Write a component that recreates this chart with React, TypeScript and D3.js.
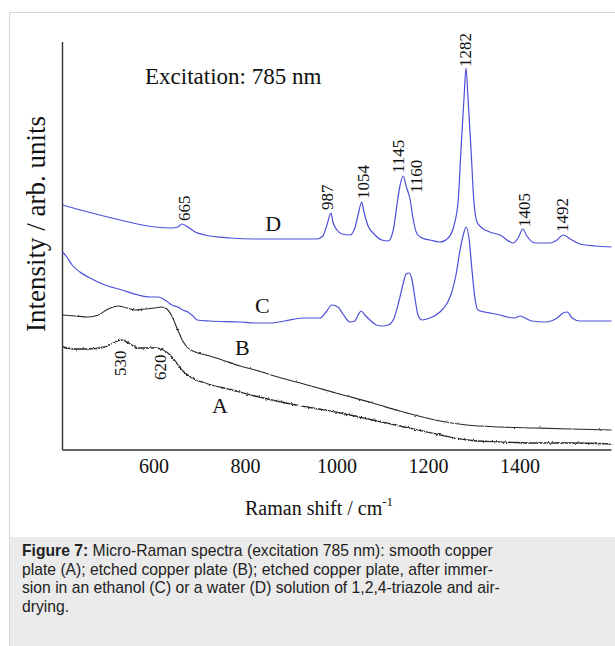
import React from "react";
import * as d3 from "d3";

// Raman shift (cm^-1) / intensity (arb. units)
const specD: [number, number][] = [
  [400, 245], [456, 238], [526, 230], [602, 223], [639, 222], [652, 223], [661, 226], [674, 223],
  [690, 218], [711, 215], [766, 212], [821, 211], [897, 211], [956, 211], [969, 214], [978, 225],
  [987, 237], [991, 228], [1000, 220], [1011, 216], [1028, 215], [1039, 222], [1046, 235], [1054, 248],
  [1059, 238], [1068, 224], [1081, 216], [1098, 210], [1112, 209], [1123, 220], [1131, 245], [1138, 265],
  [1145, 274], [1151, 264], [1160, 250], [1166, 232], [1175, 216], [1186, 212], [1203, 210], [1225, 208],
  [1243, 212], [1256, 225], [1265, 250], [1271, 300], [1278, 355], [1282, 382], [1286, 355], [1293, 300],
  [1299, 250], [1306, 228], [1317, 222], [1334, 218], [1356, 215], [1385, 207], [1396, 212], [1406, 221],
  [1415, 214], [1433, 207], [1466, 207], [1481, 210], [1494, 215], [1510, 211], [1531, 206], [1564, 204],
  [1600, 203],
];
const specC: [number, number][] = [
  [400, 198], [411, 192], [421, 185], [438, 178], [456, 173], [493, 165], [530, 160], [565, 155],
  [591, 153], [609, 153], [624, 150], [639, 145], [652, 143], [663, 140], [674, 138], [685, 134],
  [694, 130], [722, 129], [788, 128], [821, 127], [854, 127], [886, 129], [926, 132], [963, 132],
  [976, 138], [989, 145], [1002, 143], [1013, 136], [1028, 128], [1039, 129], [1046, 135], [1053, 139],
  [1061, 135], [1072, 130], [1086, 125], [1099, 124], [1112, 125], [1125, 132], [1136, 150], [1145, 167],
  [1151, 176], [1158, 177], [1164, 170], [1171, 150], [1177, 135], [1186, 130], [1203, 132], [1225, 138],
  [1241, 147], [1251, 158], [1260, 175], [1269, 200], [1276, 215], [1282, 223], [1289, 210], [1295, 180],
  [1302, 150], [1308, 140], [1322, 138], [1335, 137], [1356, 135], [1372, 133], [1389, 132], [1400, 134],
  [1411, 132], [1426, 129], [1455, 128], [1481, 132], [1494, 137], [1503, 138], [1514, 132], [1531, 129],
  [1564, 129], [1600, 129],
];
const specB: [number, number][] = [
  [400, 135], [428, 134], [456, 133], [478, 135], [500, 141], [521, 144], [541, 142], [558, 140],
  [580, 141], [602, 142], [617, 143], [628, 141], [639, 134], [652, 120], [663, 109], [672, 103],
  [685, 99], [696, 97], [722, 94], [749, 90], [788, 84], [821, 80], [878, 72], [935, 65],
  [1006, 56], [1078, 47], [1137, 39], [1225, 29], [1284, 25], [1357, 23], [1429, 22], [1510, 21],
  [1600, 20],
];
const specA: [number, number][] = [
  [400, 103], [428, 101], [456, 101], [493, 103], [515, 108], [530, 110], [548, 106], [565, 102],
  [602, 102], [620, 100], [635, 95], [648, 88], [661, 80], [683, 72], [711, 67], [771, 60],
  [821, 54], [878, 48], [935, 43], [1007, 37], [1078, 30], [1138, 24], [1226, 15],
  [1284, 10], [1357, 8], [1429, 7], [1510, 7], [1600, 6],
];

const xTicks = [600, 800, 1000, 1200, 1400];

// peak annotations: [label, wavenumber, intensity at label start]
const peakLabelsUp: [string, number, number][] = [
  ["665", 667, 229], ["987", 979, 240], ["1054", 1057, 251], ["1145", 1134, 277],
  ["1160", 1173, 257], ["1282", 1281, 383], ["1405", 1409, 223], ["1492", 1493, 218],
];
const peakLabelsDown: [string, number, number][] = [
  ["530", 526, 74], ["620", 615, 70],
];
// curve letters: [letter, wavenumber, intensity]
const curveLetters: [string, number, number][] = [
  ["D", 843, 219], ["C", 821, 137], ["B", 777, 95], ["A", 727, 37],
];

const captionLines = [
  " Micro-Raman spectra (excitation 785 nm): smooth copper",
  "plate (A); etched copper plate (B); etched copper plate, after immer-",
  "sion in an ethanol (C) or a water (D) solution of 1,2,4-triazole and air-",
  "drying.",
];

const W = 615;
const H = 646;
const serif = "'Times New Roman', 'Liberation Serif', serif";
const sans = "Arial, 'Liberation Sans', sans-serif";

export default function App() {
  const x = d3.scaleLinear().domain([400, 1600]).range([62.5, 611.5]);
  const y = d3.scaleLinear().domain([0, 408]).range([450, 42]);
  const line = d3
    .line<[number, number]>()
    .x((d) => x(d[0]))
    .y((d) => y(d[1]))
    .curve(d3.curveMonotoneX);

  const blue = "#4c4fd9";
  const black = "#2a2a2a";

  return (
    <svg
      width={W}
      height={H}
      style={{ position: "absolute", left: 0, top: 0, background: "#fff" }}
    >
      <defs>
        <filter id="jitterStrong" filterUnits="userSpaceOnUse" x={0} y={0} width={W} height={H}>
          <feTurbulence type="fractalNoise" baseFrequency="0.6" numOctaves={1} seed={3} result="n" />
          <feDisplacementMap in="SourceGraphic" in2="n" scale={3.2} xChannelSelector="R" yChannelSelector="G" />
        </filter>
        <filter id="jitterSoft" filterUnits="userSpaceOnUse" x={0} y={0} width={W} height={H}>
          <feTurbulence type="fractalNoise" baseFrequency="0.5" numOctaves={1} seed={7} result="n" />
          <feDisplacementMap in="SourceGraphic" in2="n" scale={2.2} xChannelSelector="R" yChannelSelector="G" />
        </filter>
        <filter id="jitterFaint" filterUnits="userSpaceOnUse" x={0} y={0} width={W} height={H}>
          <feTurbulence type="fractalNoise" baseFrequency="0.4" numOctaves={1} seed={11} result="n" />
          <feDisplacementMap in="SourceGraphic" in2="n" scale={1.4} xChannelSelector="R" yChannelSelector="G" />
        </filter>
      </defs>

      {/* frame */}
      <line x1={9.5} y1={12.5} x2={W} y2={12.5} stroke="#d6d6d6" />
      <line x1={9.5} y1={12.5} x2={9.5} y2={H} stroke="#d6d6d6" />
      <rect x={10} y={537} width={W - 10} height={H - 537} fill="#ebebeb" />

      {/* axes */}
      <line x1={x(400)} y1={y(408)} x2={x(400)} y2={y(0)} stroke="#333" strokeWidth={1.4} />
      <line x1={x(400)} y1={y(0)} x2={x(1600)} y2={y(0)} stroke="#333" strokeWidth={1.4} />
      {xTicks.map((t) => (
        <text key={t} x={x(t)} y={473} textAnchor="middle" fontFamily={serif} fontSize={20} fill="#111">
          {t}
        </text>
      ))}
      <text x={245} y={515} fontFamily={serif} fontSize={20} fill="#111">
        Raman shift / cm
        <tspan dy={-9} fontSize={13}>-1</tspan>
      </text>
      <text
        transform={`translate(45,224) rotate(-90)`}
        textAnchor="middle"
        fontFamily={serif}
        fontSize={27}
        fill="#111"
      >
        Intensity / arb. units
      </text>
      <text x={145} y={84} fontFamily={serif} fontSize={23} fill="#111">
        Excitation: 785 nm
      </text>

      {/* spectra */}
      <path d={line(specA) ?? ""} fill="none" stroke={black} strokeWidth={1.3} filter="url(#jitterStrong)" />
      <path d={line(specB) ?? ""} fill="none" stroke={black} strokeWidth={1.1} filter="url(#jitterSoft)" />
      <path d={line(specC) ?? ""} fill="none" stroke={blue} strokeWidth={1.2} filter="url(#jitterFaint)" />
      <path d={line(specD) ?? ""} fill="none" stroke={blue} strokeWidth={1.2} filter="url(#jitterFaint)" />

      {/* peak labels */}
      {peakLabelsUp.map(([t, w, v]) => (
        <text
          key={t}
          transform={`translate(${x(w) + 5.5},${y(v)}) rotate(-90)`}
          fontFamily={serif}
          fontSize={17}
          fill="#111"
        >
          {t}
        </text>
      ))}
      {peakLabelsDown.map(([t, w, v]) => (
        <text
          key={t}
          transform={`translate(${x(w) + 5.5},${y(v)}) rotate(-90)`}
          fontFamily={serif}
          fontSize={17}
          fill="#111"
        >
          {t}
        </text>
      ))}
      {curveLetters.map(([t, w, v]) => (
        <text key={t} x={x(w)} y={y(v)} fontFamily={serif} fontSize={22} fill="#111">
          {t}
        </text>
      ))}

      {/* caption */}
      {captionLines.map((l, i) => (
        <text key={i} x={22} y={556 + i * 18.7} fontFamily={sans} fontSize={15.7} fill="#222">
          {i === 0 ? <tspan fontWeight="bold">Figure 7:</tspan> : null}
          {l}
        </text>
      ))}
    </svg>
  );
}
